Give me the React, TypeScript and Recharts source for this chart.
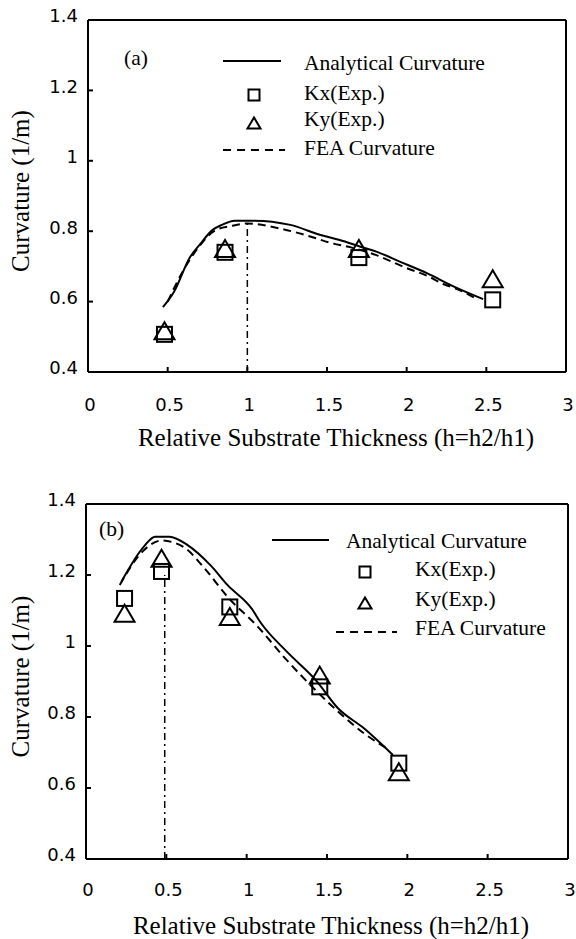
import React from 'react';
import { ComposedChart, Line, Scatter, XAxis, YAxis, ReferenceLine } from 'recharts';

const xTicks = [0, 0.5, 1, 1.5, 2, 2.5, 3];
const yTicks = [0.4, 0.6, 0.8, 1, 1.2, 1.4];

// (a) analytical + FEA curves, Kx / Ky measurements
const anaAx = [0.47, 0.54, 0.64, 0.7, 0.78, 0.84, 0.92, 1.04, 1.27, 1.46, 1.58, 1.71, 1.81, 1.96, 2.13, 2.29, 2.48];
const anaAy = [0.584, 0.628, 0.726, 0.761, 0.803, 0.818, 0.83, 0.83, 0.818, 0.789, 0.775, 0.756, 0.742, 0.713, 0.68, 0.644, 0.607];
const feaAx = [0.5, 0.6, 0.7, 0.8, 0.9, 1.0, 1.2, 1.41, 1.52, 1.65, 1.81, 2.0, 2.13, 2.23, 2.32, 2.45];
const feaAy = [0.6, 0.69, 0.758, 0.803, 0.815, 0.822, 0.808, 0.783, 0.767, 0.754, 0.732, 0.695, 0.673, 0.65, 0.635, 0.605];
const kxAx = [0.48, 0.86, 1.7, 2.54];
const kxAy = [0.507, 0.74, 0.725, 0.605];
const kyAx = [0.48, 0.86, 1.7, 2.54];
const kyAy = [0.517, 0.751, 0.751, 0.665];
const peakAx = [1, 1];
const peakAy = [0.4, 0.823];

// (b)
const anaBx = [0.22, 0.36, 0.43, 0.52, 0.63, 0.78, 0.88, 1.03, 1.09, 1.25, 1.43, 1.57, 1.73, 1.91];
const anaBy = [1.181, 1.28, 1.308, 1.308, 1.285, 1.225, 1.172, 1.106, 1.064, 0.984, 0.904, 0.824, 0.768, 0.693];
const feaBx = [0.21, 0.36, 0.47, 0.61, 0.73, 0.88, 1.07, 1.25, 1.43, 1.57, 1.73, 1.89];
const feaBy = [1.172, 1.27, 1.297, 1.278, 1.223, 1.139, 1.054, 0.96, 0.875, 0.815, 0.754, 0.707];
const kxBx = [0.24, 0.47, 0.895, 1.455, 1.947];
const kxBy = [1.134, 1.21, 1.11, 0.885, 0.67];
const kyBx = [0.24, 0.47, 0.895, 1.455, 1.947];
const kyBy = [1.092, 1.247, 1.083, 0.918, 0.646];
const peakBx = [0.49, 0.49];
const peakBy = [0.4, 1.2];

const pts = (xs: number[], ys: number[]) => xs.map((x, i) => ({ x, y: ys[i] }));

const SERIF = '"Liberation Serif", "Times New Roman", serif';
const SANS = '"DejaVu Sans", Verdana, sans-serif';

const Square = ({ cx, cy, s = 15 }: any) => (
  <rect x={cx - s / 2} y={cy - s / 2} width={s} height={s} fill="none" stroke="#000" strokeWidth={2} />
);
const Triangle = ({ cx, cy, w = 20, h = 17 }: any) => (
  <polygon
    points={`${cx},${cy - h / 2} ${cx - w / 2},${cy + h / 2} ${cx + w / 2},${cy + h / 2}`}
    fill="none"
    stroke="#000"
    strokeWidth={2}
  />
);

function Panel(props: any) {
  const { tag, height, margin, ana, fea, kx, ky, peak, gap, titleDx, titleDy, leg } = props;

  const XTick = ({ x, y, payload }: any) => (
    <g>
      <line x1={x} y1={y} x2={x} y2={y - 5} stroke="#000" strokeWidth={2} />
      <text x={x + 2} y={y + gap} dy="0.36em" textAnchor="middle" fontFamily={SANS} fontSize={18} fill="#000">
        {payload.value}
      </text>
    </g>
  );
  const YTick = ({ x, y, payload }: any) => (
    <g>
      <line x1={x} y1={y} x2={x + 5} y2={y} stroke="#000" strokeWidth={2} />
      <text x={x - 10} y={y - 4} dy="0.36em" textAnchor="end" fontFamily={SANS} fontSize={18} fill="#000">
        {payload.value}
      </text>
    </g>
  );

  return (
    <div style={{ position: 'relative', width: 576, height }}>
      <ComposedChart width={576} height={height} margin={margin}>
        <XAxis
          type="number"
          dataKey="x"
          domain={[0, 3]}
          ticks={xTicks}
          tickSize={0}
          tickMargin={0}
          tick={<XTick />}
          tickLine={false}
          height={30}
          axisLine={{ stroke: '#000', strokeWidth: 2 }}
          label={{
            content: (p: any) => {
              const vb = p.viewBox;
              return (
                <text x={vb.x + vb.width / 2 + titleDx} y={vb.y + titleDy} dy="0.35em" textAnchor="middle" fontFamily={SERIF} fontSize={25} fill="#000">
                  Relative Substrate Thickness (h=h2/h1)
                </text>
              );
            },
          }}
        />
        <YAxis
          type="number"
          dataKey="y"
          domain={[0.4, 1.4]}
          ticks={yTicks}
          tickSize={0}
          tickMargin={0}
          tick={<YTick />}
          tickLine={false}
          width={60}
          axisLine={{ stroke: '#000', strokeWidth: 2 }}
          label={{
            content: (p: any) => {
              const vb = p.viewBox;
              const cy = vb.y + vb.height / 2 - 5;
              return (
                <text x={20} y={cy} dy="0.35em" textAnchor="middle" transform={`rotate(-90 20 ${cy})`} fontFamily={SERIF} fontSize={25} fill="#000">
                  Curvature (1/m)
                </text>
              );
            },
          }}
        />
        <ReferenceLine y={1.4} stroke="#000" strokeWidth={2} />
        <ReferenceLine x={3} stroke="#000" strokeWidth={2} />
        <Line data={peak} dataKey="y" type="linear" stroke="#000" strokeWidth={1.5} strokeDasharray="7 4 2 4" dot={false} isAnimationActive={false} />
        <Line data={ana} dataKey="y" type="monotone" stroke="#000" strokeWidth={2} dot={false} isAnimationActive={false} />
        <Line data={fea} dataKey="y" type="monotone" stroke="#000" strokeWidth={2} strokeDasharray="8 5" dot={false} isAnimationActive={false} />
        <Scatter data={kx} dataKey="y" shape={(p: any) => <Square cx={p.cx} cy={p.cy} />} isAnimationActive={false} />
        <Scatter data={ky} dataKey="y" shape={(p: any) => <Triangle cx={p.cx} cy={p.cy} />} isAnimationActive={false} />
      </ComposedChart>
      <svg width={576} height={height} style={{ position: 'absolute', left: 0, top: 0, pointerEvents: 'none' }}>
        <g fontFamily={SERIF} fontSize={21.5} fill="#000">
          <text x={leg.tagX} y={leg.tagY} dy="0.35em">{tag}</text>
          <line x1={leg.l1} x2={leg.l2} y1={leg.y[0]} y2={leg.y[0]} stroke="#000" strokeWidth={2} />
          <text x={leg.tx} y={leg.ty[0]} dy="0.35em">Analytical Curvature</text>
          <Square cx={leg.mx} cy={leg.my[0]} s={11} />
          <text x={leg.tx2} y={leg.ty[1]} dy="0.35em">Kx(Exp.)</text>
          <Triangle cx={leg.mx} cy={leg.my[1]} w={13} h={11} />
          <text x={leg.tx2} y={leg.ty[2]} dy="0.35em">Ky(Exp.)</text>
          <line x1={leg.d1} x2={leg.d2} y1={leg.y[1]} y2={leg.y[1]} stroke="#000" strokeWidth={2} strokeDasharray="8 6" />
          <text x={leg.tx2} y={leg.ty[3]} dy="0.35em">FEA Curvature</text>
        </g>
      </svg>
    </div>
  );
}

export default function App() {
  return (
    <div style={{ position: 'absolute', left: 0, top: 0, width: 576, height: 939, background: '#fff' }}>
      <Panel
        tag="(a)"
        height={470}
        margin={{ top: 20, right: 10, bottom: 68, left: 28 }}
        ana={pts(anaAx, anaAy)}
        fea={pts(feaAx, feaAy)}
        kx={pts(kxAx, kxAy)}
        ky={pts(kyAx, kyAy)}
        peak={pts(peakAx, peakAy)}
        gap={33}
        titleDx={9}
        titleDy={65}
        leg={{ tagX: 124, tagY: 57, l1: 223, l2: 281, d1: 223, d2: 285, y: [61, 150], tx: 304, tx2: 304, ty: [62, 92, 118, 147], mx: 254, my: [95, 123] }}
      />
      <Panel
        tag="(b)"
        height={469}
        margin={{ top: 34, right: 8, bottom: 50, left: 26 }}
        ana={pts(anaBx, anaBy)}
        fea={pts(feaBx, feaBy)}
        kx={pts(kxBx, kxBy)}
        ky={pts(kyBx, kyBy)}
        peak={pts(peakBx, peakBy)}
        gap={31}
        titleDx={4}
        titleDy={66}
        leg={{ tagX: 99, tagY: 58, l1: 272, l2: 329, d1: 336, d2: 397, y: [70, 162], tx: 346, tx2: 415, ty: [70, 98, 128, 157], mx: 365, my: [102, 133] }}
      />
    </div>
  );
}
